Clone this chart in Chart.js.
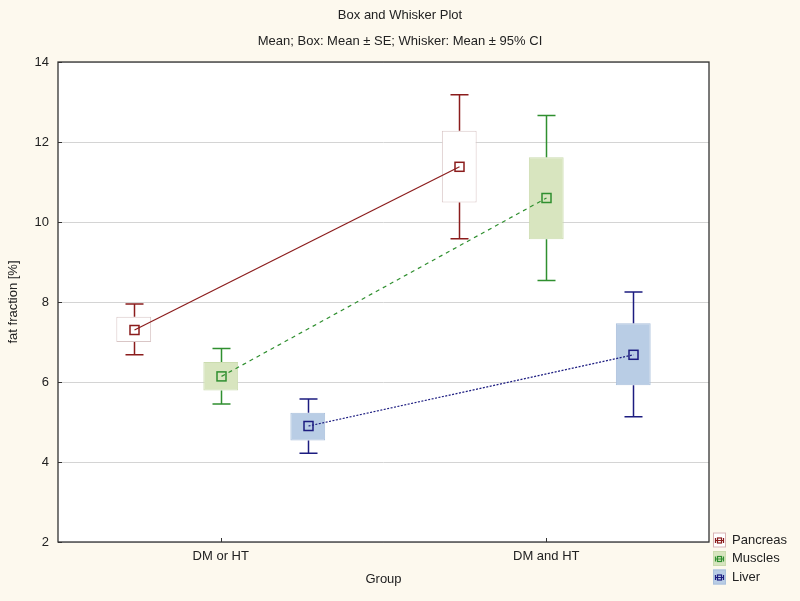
<!DOCTYPE html>
<html>
<head>
<meta charset="utf-8">
<script src="https://cdn.jsdelivr.net/npm/chart.js@4"></script>
<style>
  html, body { margin: 0; padding: 0; background: #fdf9ee; }
  #wrap { width: 800px; height: 601px; }
</style>
</head>
<body>
<div id="wrap"><canvas id="myChart"></canvas></div>
<script>
// data
const groups = ["DM or HT", "DM and HT"];
const seriesNames = ["Pancreas", "Muscles", "Liver"];

const pancreasMean = [7.3, 11.38];
const pancreasBoxLow = [7.0, 10.49];
const pancreasBoxHigh = [7.63, 12.28];
const pancreasCiLow = [6.68, 9.58];
const pancreasCiHigh = [7.95, 13.18];

const musclesMean = [6.14, 10.6];
const musclesBoxLow = [5.79, 9.57];
const musclesBoxHigh = [6.5, 11.62];
const musclesCiLow = [5.45, 8.54];
const musclesCiHigh = [6.84, 12.66];

const liverMean = [4.9, 6.68];
const liverBoxLow = [4.54, 5.92];
const liverBoxHigh = [5.23, 7.47];
const liverCiLow = [4.22, 5.13];
const liverCiHigh = [5.575, 8.25];

const yTicks = [2, 4, 6, 8, 10, 12, 14];

// styles per series
const styles = [
  { line: "#8b1c1c", fill: "#ffffff", edge: "#d9c6c6", dash: [] },
  { line: "#2f8f2f", fill: "#d8e5bf", edge: "#cbdcaf", dash: [4, 4] },
  { line: "#1c1c80", fill: "#b9cde5", edge: "#aac0dc", dash: [2, 1.5] },
];

const stats = [
  { mean: pancreasMean, lo: pancreasBoxLow, hi: pancreasBoxHigh, ciLo: pancreasCiLow, ciHi: pancreasCiHigh },
  { mean: musclesMean, lo: musclesBoxLow, hi: musclesBoxHigh, ciLo: musclesCiLow, ciHi: musclesCiHigh },
  { mean: liverMean, lo: liverBoxLow, hi: liverBoxHigh, ciLo: liverCiLow, ciHi: liverCiHigh },
];

const data = {
  labels: groups,
  datasets: stats.map((s, i) => ({
    label: seriesNames[i],
    data: s.lo.map((v, j) => [v, s.hi[j]]),
    backgroundColor: styles[i].fill,
    borderColor: styles[i].edge,
    borderWidth: 1,
    borderSkipped: false,
    categoryPercentage: 0.802,
    barPercentage: 0.4,
  })),
};

// whiskers, means, frame, legend
const boxWhisker = {
  id: "boxWhisker",
  beforeDraw(chart) {
    const { ctx, chartArea: a } = chart;
    ctx.save();
    ctx.fillStyle = "#fdf9ee";
    ctx.fillRect(0, 0, chart.width, chart.height);
    ctx.fillStyle = "#ffffff";
    ctx.fillRect(a.left, a.top, a.right - a.left, a.bottom - a.top);
    ctx.restore();
  },
  afterDatasetsDraw(chart) {
    const { ctx, scales: { y } } = chart;
    ctx.save();
    chart.data.datasets.forEach((ds, i) => {
      const meta = chart.getDatasetMeta(i);
      const s = stats[i];
      const st = styles[i];
      const pts = [];
      meta.data.forEach((bar, j) => {
        const x = Math.round(bar.x) + 0.5;
        const cap = 9;
        const yHi = y.getPixelForValue(s.ciHi[j]);
        const yLo = y.getPixelForValue(s.ciLo[j]);
        const bHi = y.getPixelForValue(s.hi[j]);
        const bLo = y.getPixelForValue(s.lo[j]);
        ctx.strokeStyle = st.line;
        ctx.lineWidth = 1.5;
        ctx.setLineDash([]);
        ctx.beginPath();
        ctx.moveTo(x, bHi);
        ctx.lineTo(x, yHi);
        ctx.moveTo(x - cap, yHi);
        ctx.lineTo(x + cap, yHi);
        ctx.moveTo(x, bLo);
        ctx.lineTo(x, yLo);
        ctx.moveTo(x - cap, yLo);
        ctx.lineTo(x + cap, yLo);
        ctx.stroke();
        pts.push({ x, y: y.getPixelForValue(s.mean[j]) });
      });
      // line joining the means
      ctx.strokeStyle = st.line;
      ctx.lineWidth = 1.2;
      ctx.setLineDash(st.dash);
      ctx.beginPath();
      pts.forEach((p, k) => (k ? ctx.lineTo(p.x, p.y) : ctx.moveTo(p.x, p.y)));
      ctx.stroke();
      // mean markers
      ctx.setLineDash([]);
      ctx.lineWidth = 1.5;
      pts.forEach((p) => {
        ctx.strokeRect(p.x - 4.5, p.y - 4.5, 9, 9);
      });
    });
    ctx.restore();
  },
  afterDraw(chart) {
    const { ctx, chartArea: a, scales: { x, y } } = chart;
    ctx.save();
    // frame
    ctx.strokeStyle = "#333333";
    ctx.lineWidth = 1.3;
    ctx.strokeRect(a.left, a.top, a.right - a.left, a.bottom - a.top);
    // inward ticks
    ctx.lineWidth = 1;
    ctx.beginPath();
    groups.forEach((g, j) => {
      const px = Math.round(x.getPixelForValue(j)) + 0.5;
      ctx.moveTo(px, a.bottom);
      ctx.lineTo(px, a.bottom - 4);
    });
    yTicks.forEach((v) => {
      const py = Math.round(y.getPixelForValue(v)) + 0.5;
      ctx.moveTo(a.left, py);
      ctx.lineTo(a.left + 4, py);
    });
    ctx.stroke();

    // legend
    const lx = a.right + 4;
    let ly = a.bottom - 2;
    ctx.font = "13px Arial, 'Liberation Sans', sans-serif";
    ctx.textBaseline = "middle";
    ctx.textAlign = "left";
    seriesNames.forEach((name, i) => {
      const st = styles[i];
      ctx.fillStyle = st.fill;
      ctx.fillRect(lx, ly - 7.5, 13, 15);
      ctx.strokeStyle = st.fill === "#ffffff" ? "#d9b4b4" : st.edge;
      ctx.lineWidth = 1;
      ctx.strokeRect(lx + 0.5, ly - 7, 12, 14);
      ctx.strokeStyle = st.line;
      ctx.lineWidth = 1.2;
      ctx.beginPath();
      ctx.moveTo(lx + 2, ly + 0.5);
      ctx.lineTo(lx + 11, ly + 0.5);
      ctx.moveTo(lx + 2.5, ly - 2);
      ctx.lineTo(lx + 2.5, ly + 3);
      ctx.moveTo(lx + 10.5, ly - 2);
      ctx.lineTo(lx + 10.5, ly + 3);
      ctx.stroke();
      ctx.strokeRect(lx + 4.5, ly - 2, 4, 5);
      ctx.fillStyle = "#222222";
      ctx.fillText(name, lx + 19, ly);
      ly += 18.5;
    });
    ctx.restore();
  },
};

Chart.defaults.font.family = "Arial, 'Liberation Sans', sans-serif";
Chart.defaults.font.size = 13;
Chart.defaults.color = "#222222";

// config
const config = {
  type: "bar",
  data,
  options: {
    responsive: true,
    maintainAspectRatio: false,
    animation: false,
    layout: { padding: 0 },
    scales: {
      x: {
        grid: { display: false, drawTicks: false },
        border: { display: false },
        ticks: { padding: 7 },
        title: { display: true, text: "Group", padding: { top: 0, bottom: 14 } },
        afterFit(scale) { scale.height = 59; },
      },
      y: {
        min: 2,
        max: 14,
        grid: { color: "#d4d4d4", drawTicks: false },
        border: { display: false },
        ticks: { stepSize: 2, padding: 9 },
        title: { display: true, text: "fat fraction [%]", padding: { top: 6, bottom: 0 } },
        afterFit(scale) { scale.width = 58; },
      },
      // empty right-hand strip that holds the legend
      yRight: {
        position: "right",
        display: true,
        grid: { display: false },
        border: { display: false },
        ticks: { display: false },
        afterFit(scale) { scale.width = 91; },
      },
    },
    plugins: {
      legend: { display: false },
      tooltip: { enabled: false },
      title: {
        display: true,
        text: "Box and Whisker Plot",
        color: "#222222",
        font: { size: 13, weight: "normal" },
        padding: { top: 8, bottom: 10 },
      },
      subtitle: {
        display: true,
        text: "Mean; Box: Mean ± SE; Whisker: Mean ± 95% CI",
        color: "#222222",
        font: { size: 13 },
        padding: { top: 0, bottom: 12.8 },
      },
    },
  },
  plugins: [boxWhisker],
};

const myChart = new Chart(document.getElementById("myChart"), config);
</script>
</body>
</html>
